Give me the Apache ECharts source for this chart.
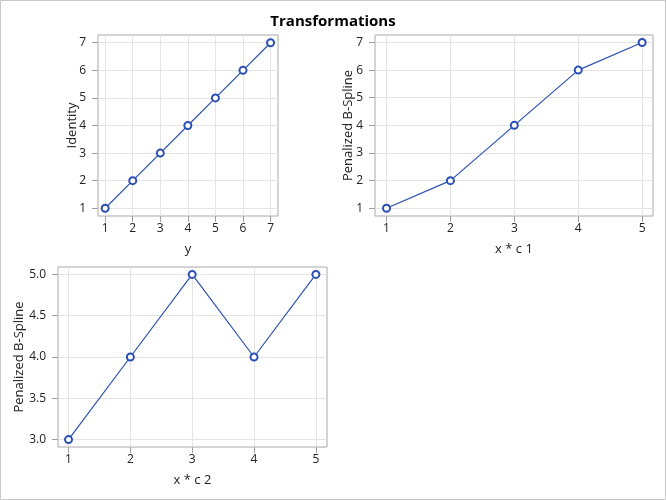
<!DOCTYPE html>
<html><head><meta charset="utf-8">
<script src="https://cdn.jsdelivr.net/npm/echarts@6/dist/echarts.min.js"></script>
<style>html,body{margin:0;padding:0;background:#fff}#c{width:666px;height:500px}</style>
</head><body><div id="c"></div>
<script>
const title = "Transformations";
// Panel 1
const p1X = [1, 2, 3, 4, 5, 6, 7];
const p1Y = [1, 2, 3, 4, 5, 6, 7];
const p1XTicks = [1, 2, 3, 4, 5, 6, 7];
const p1YTicks = [1, 2, 3, 4, 5, 6, 7];
// Panel 2
const p2X = [1, 2, 3, 4, 5];
const p2Y = [1, 2, 4, 6, 7];
const p2XTicks = [1, 2, 3, 4, 5];
const p2YTicks = [1, 2, 3, 4, 5, 6, 7];
// Panel 3
const p3X = [1, 2, 3, 4, 5];
const p3Y = [3, 4, 5, 4, 5];
const p3XTicks = [1, 2, 3, 4, 5];
const p3YTicks = [3.0, 3.5, 4.0, 4.5, 5.0];
const names = [["y", "Identity"], ["x * c 1", "Penalized B-Spline"], ["x * c 2", "Penalized B-Spline"]];

const FONT = "Open Sans";
const lineColor = "#2b4fb5";
const grids = [
  {left: 98, top: 35, width: 180, height: 181},
  {left: 375, top: 35, width: 278, height: 181},
  {left: 58, top: 267, width: 269, height: 180}
];
const ranges = [
  {x: [0.74, 7.27], y: [0.72, 7.28]},
  {x: [0.82, 5.17], y: [0.72, 7.27]},
  {x: [0.83, 5.18], y: [2.91, 5.09]}
];
const yNameGap = [19.5, 20.5, 32];
const xt = [p1XTicks, p2XTicks, p3XTicks];
const yt = [p1YTicks, p2YTicks, p3YTicks];
const yFmt = [v => String(v), v => String(v), v => v.toFixed(1)];
const data = [
  p1X.map((x, i) => [x, p1Y[i]]),
  p2X.map((x, i) => [x, p2Y[i]]),
  p3X.map((x, i) => [x, p3Y[i]])
];

function axis(i, dir) {
  const isX = dir === 'x';
  const ticks = isX ? xt[i] : yt[i];
  return {
    type: 'value', gridIndex: i,
    min: ranges[i][dir][0], max: ranges[i][dir][1],
    name: isX ? names[i][0] : names[i][1],
    nameLocation: 'middle',
    nameMoveOverlap: false,
    nameGap: isX ? 27 : yNameGap[i],
    nameTextStyle: {fontFamily: FONT, fontSize: 13, color: '#222'},
    axisLine: {show: false},
    axisTick: {show: true, customValues: ticks, length: 6, lineStyle: {color: '#a0a0a0'}},
    axisLabel: {customValues: ticks, fontFamily: FONT, fontSize: 12, color: '#222', margin: isX ? 7 : 12,
      formatter: isX ? (v => String(v)) : yFmt[i]},
    splitLine: {show: true, lineStyle: {color: '#e4e4e4', width: 1}}
  };
}

const chart = echarts.init(document.getElementById('c'), null, {renderer: 'canvas'});
chart.setOption({
  animation: false,
  backgroundColor: '#fff',
  title: {text: title, left: 'center', top: 9,
    textStyle: {fontFamily: FONT, fontSize: 15, fontWeight: 'bold', color: '#000'}},
  graphic: [{type: 'rect', shape: {x: 0.5, y: 0.5, width: 665, height: 499},
    style: {fill: null, stroke: '#c8c8c8', lineWidth: 1}, silent: true}],
  grid: grids.map(g => Object.assign({show: true, borderColor: '#a8a8a8', borderWidth: 1, backgroundColor: 'transparent'}, g)),
  xAxis: [0, 1, 2].map(i => axis(i, 'x')),
  yAxis: [0, 1, 2].map(i => axis(i, 'y')),
  series: [0, 1, 2].map(i => ({
    type: 'line', xAxisIndex: i, yAxisIndex: i, data: data[i],
    symbol: 'emptyCircle', symbolSize: 7,
    lineStyle: {color: lineColor, width: 1.2},
    itemStyle: {color: lineColor, borderWidth: 1.2}
  }))
});
</script></body></html>
